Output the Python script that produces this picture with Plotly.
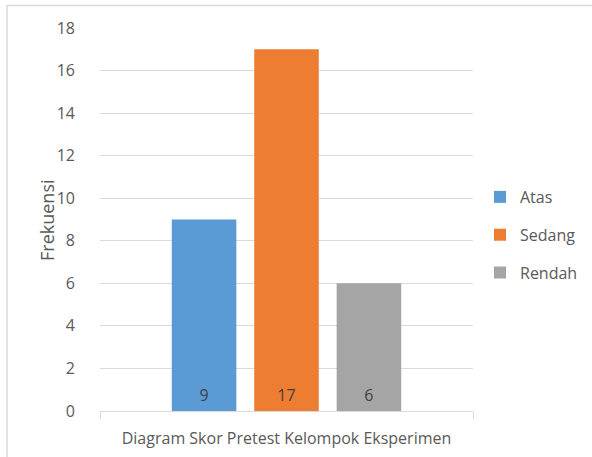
import plotly.graph_objects as go

category = ["Diagram Skor Pretest Kelompok Eksperimen"]
series_names = ["Atas", "Sedang", "Rendah"]
series_values = [[9], [17], [6]]
colors = ["#5B9BD5", "#ED7D31", "#A5A5A5"]
y_ticks = [0, 2, 4, 6, 8, 10, 12, 14, 16, 18]

FONT = "Open Sans"
W, H = 592, 457
L, R, T, B = 100, 119, 28, 46
pw, ph = W - L - R, H - T - B

fig = go.Figure()
for name, vals, col in zip(series_names, series_values, colors):
    fig.add_trace(go.Bar(
        x=category, y=vals, name=name, legendgroup=name,
        marker=dict(color=col, line=dict(width=0)),
        text=[f"<span style='font-size:16px'>{v}</span><br>\u00a0" for v in vals],
        textposition="inside", insidetextanchor="start",
        textfont=dict(family=FONT, size=5, color="#404040"),
    ))

def px_to_paper_x(px):
    return (px - L) / pw

def px_to_paper_y(py):
    return (H - B - py) / ph

fig.update_layout(
    width=W, height=H,
    margin=dict(l=L, r=R, t=T, b=B, autoexpand=False),
    paper_bgcolor="white", plot_bgcolor="white",
    barmode="group", bargap=0.337, bargroupgap=0.217,
    font=dict(family=FONT, size=16, color="#595959"),
    showlegend=True,
    legend=dict(
        x=px_to_paper_x(480), y=px_to_paper_y(235), xanchor="left", yanchor="middle",
        font=dict(family=FONT, size=16, color="#595959"),
        tracegroupgap=14, itemwidth=30, bgcolor="rgba(0,0,0,0)",
    ),
    yaxis=dict(
        range=[0, 18], tickvals=y_ticks, showgrid=True, gridcolor="#D9D9D9",
        gridwidth=1, zeroline=False, showline=False, automargin=False,
        ticklabelstandoff=24, tickfont=dict(family=FONT, size=16, color="#595959"),
    ),
    xaxis=dict(
        range=[-0.5, 0.5], showline=True, linecolor="#D9D9D9", linewidth=1,
        ticks="outside", tickson="boundaries", ticklen=7, tickcolor="#D9D9D9",
        ticklabelstandoff=13, automargin=False,
        tickfont=dict(family=FONT, size=16, color="#595959"),
        showgrid=False,
    ),
    annotations=[dict(
        text="Frekuensi", textangle=-90, showarrow=False,
        xref="paper", yref="paper", x=px_to_paper_x(47), y=px_to_paper_y(220),
        xanchor="center", yanchor="middle",
        font=dict(family=FONT, size=18, color="#595959"),
    )],
    shapes=[dict(
        type="rect", xref="paper", yref="paper",
        x0=px_to_paper_x(7), x1=px_to_paper_x(620),
        y0=px_to_paper_y(480), y1=px_to_paper_y(5.5),
        line=dict(color="#D9D9D9", width=1.5), layer="below",
    )],
)

fig.write_html(
    "out.html",
    config={"displayModeBar": False},
    post_script="document.body.style.margin='0';document.body.style.overflow='hidden';",
)
